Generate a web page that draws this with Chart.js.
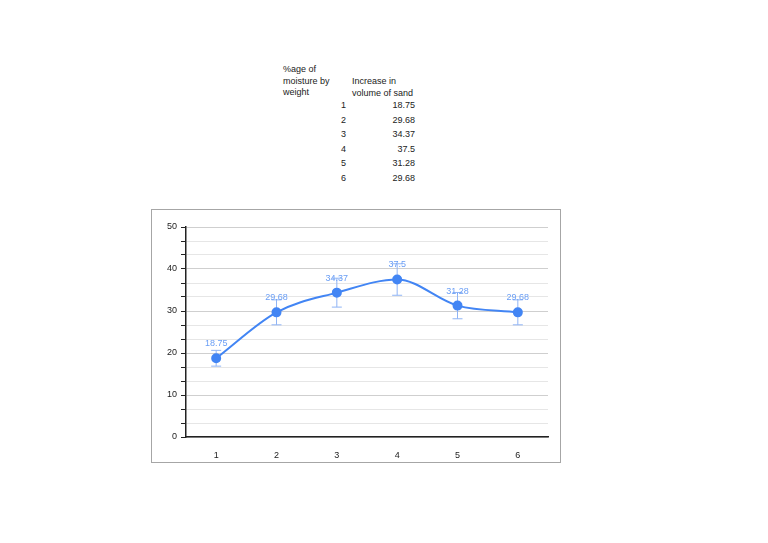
<!DOCTYPE html>
<html>
<head>
<meta charset="utf-8">
<script src="https://cdn.jsdelivr.net/npm/chart.js@4.4.0/dist/chart.umd.min.js"></script>
<style>
  body { margin: 0; background: #fff; font-family: "Liberation Sans", Arial, sans-serif; color: #222; }
  #page { position: relative; width: 768px; height: 543px; overflow: hidden; }
  .cell { position: absolute; font-size: 9px; line-height: 11.5px; white-space: nowrap; }
  .r { text-align: right; }
  #box { position: absolute; left: 151px; top: 209px; width: 408px; height: 252px; border: 1px solid #a6a6a6; }
</style>
</head>
<body>
<div id="page">
  <div class="cell" style="left:283px; top:64px;">%age of<br>moisture by<br>weight</div>
  <div class="cell" style="left:352px; top:76px;">Increase in<br>volume of sand</div>
  <div id="rows"></div>
  <div id="box"><canvas id="chartC" width="408" height="252"></canvas></div>
</div>
<script>
'use strict';

// table / chart data
var moisture = ['1', '2', '3', '4', '5', '6'];
var sandIncrease = [18.75, 29.68, 34.37, 37.5, 31.28, 29.68];
var errAmount = [1.88, 2.97, 3.44, 3.75, 3.13, 2.97];
var yTickValues = [0, 10, 20, 30, 40, 50];

// table text
var rows = document.querySelector('#rows');
for (let i = 0; i < moisture.length; i++) {
    let top = 100 + i * 14.6;
    rows.innerHTML += '<div class="cell r" style="left:316px;width:30px;top:' + top + 'px">' + moisture[i] + '</div>'
        + '<div class="cell r" style="left:355px;width:60px;top:' + top + 'px">' + sandIncrease[i] + '</div>';
}

const isMajor = v => Math.abs(v - Math.round(v / 10) * 10) < 1e-6;

const errorBars = {
    id: 'errorBars',
    beforeDatasetsDraw(chart) {
        const ctx = chart.ctx;
        const y = chart.scales.y;
        const meta = chart.getDatasetMeta(0);
        ctx.save();
        ctx.strokeStyle = '#8fb4f5';
        ctx.lineWidth = 1;
        meta.data.forEach((pt, i) => {
            let top = y.getPixelForValue(sandIncrease[i] + errAmount[i]);
            let bot = y.getPixelForValue(sandIncrease[i] - errAmount[i]);
            ctx.beginPath();
            ctx.moveTo(pt.x, top); ctx.lineTo(pt.x, bot);
            ctx.moveTo(pt.x - 5, top); ctx.lineTo(pt.x + 5, top);
            ctx.moveTo(pt.x - 5, bot); ctx.lineTo(pt.x + 5, bot);
            ctx.stroke();
        });
        ctx.restore();
    },
    afterDatasetsDraw(chart) {
        const ctx = chart.ctx;
        const meta = chart.getDatasetMeta(0);
        ctx.save();
        ctx.fillStyle = '#6a9ef5';
        ctx.font = '9px "Liberation Sans", Arial, sans-serif';
        ctx.textAlign = 'center';
        ctx.textBaseline = 'bottom';
        meta.data.forEach((pt, i) => {
            ctx.fillText(String(sandIncrease[i]), pt.x, pt.y - 10);
        });
        ctx.restore();
    }
};

const config = {
    type: 'line',
    data: {
        labels: moisture,
        datasets: [{
            data: sandIncrease,
            borderColor: '#4285f4',
            backgroundColor: '#4285f4',
            borderWidth: 2,
            pointRadius: 4,
            pointHoverRadius: 4,
            tension: 0.4,
            cubicInterpolationMode: 'monotone'
        }]
    },
    options: {
        responsive: false,
        animation: false,
        layout: { padding: { top: 17, right: 12, left: 0, bottom: 0 } },
        plugins: { legend: { display: false }, tooltip: { enabled: false } },
        scales: {
            x: {
                offset: true,
                grid: { display: false },
                border: { color: '#222', width: 1.5 },
                ticks: { color: '#222', font: { size: 9, family: '"Liberation Sans", Arial' }, padding: 5 },
                afterFit(scale) { scale.height = 25; }
            },
            y: {
                min: 0,
                max: 50,
                afterBuildTicks(scale) {
                    let t = [];
                    for (let k = 0; k <= 15; k++) t.push({ value: k * 10 / 3 });
                    scale.ticks = t;
                },
                grid: {
                    color: c => isMajor(c.tick.value) ? '#cfcfcf' : '#e6e6e6',
                    tickColor: '#222',
                    tickLength: 5,
                    lineWidth: 1
                },
                border: { color: '#222', width: 1.5 },
                ticks: {
                    color: '#222',
                    font: { size: 9, family: '"Liberation Sans", Arial' },
                    padding: 4,
                    autoSkip: false,
                    callback: v => isMajor(v) && yTickValues.includes(Math.round(v)) ? String(Math.round(v)) : ''
                },
                afterFit(scale) { scale.width = 34; }
            }
        }
    },
    plugins: [errorBars]
};

const ctx_1 = document.querySelector('#chartC').getContext('2d');
let chart_1 = new Chart(ctx_1, config);
</script>
</body>
</html>
